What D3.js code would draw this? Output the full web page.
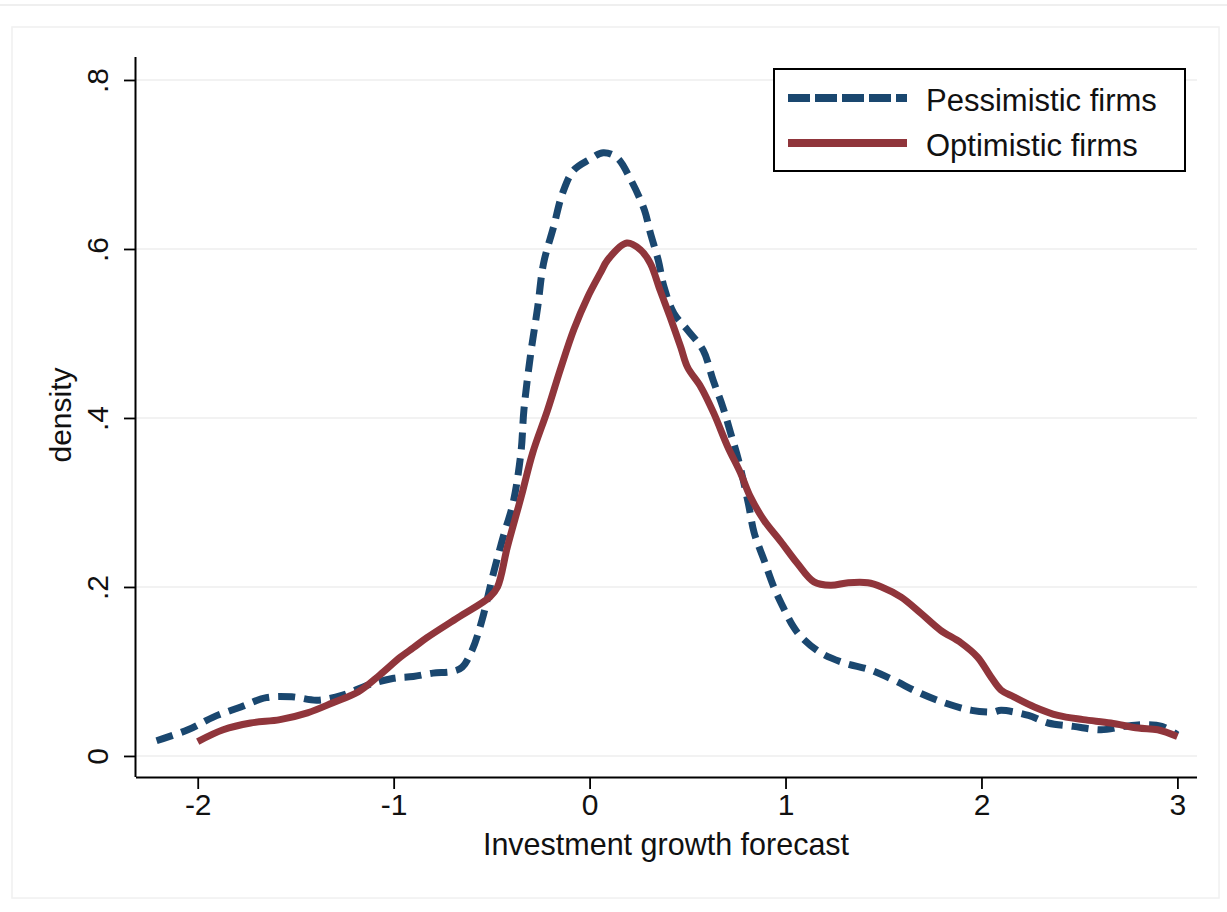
<!DOCTYPE html>
<html>
<head>
<meta charset="utf-8">
<script src="https://cdn.jsdelivr.net/npm/d3@7"></script>
<style>
  html, body { margin: 0; padding: 0; background: #ffffff; }
  svg { display: block; font-family: "Liberation Sans", Arial, sans-serif; }
</style>
</head>
<body>
<svg id="chart" width="1227" height="912"></svg>
<script>
// ---- data ----
const pessX = [-2.21, -2.05, -1.92, -1.78, -1.65, -1.52, -1.39, -1.26, -1.13, -1.00, -0.90, -0.80, -0.70, -0.65, -0.60, -0.55, -0.49, -0.44, -0.39, -0.35, -0.335, -0.30, -0.265, -0.235, -0.184, -0.138, -0.082, 0.00, 0.07, 0.14, 0.21, 0.28, 0.31, 0.35, 0.38, 0.43, 0.50, 0.58, 0.63, 0.68, 0.72, 0.76, 0.81, 0.84, 0.89, 0.94, 0.99, 1.04, 1.08, 1.18, 1.30, 1.43, 1.55, 1.68, 1.81, 1.95, 2.06, 2.10, 2.24, 2.34, 2.47, 2.61, 2.73, 2.83, 2.92, 3.00];
const pessY = [0.018, 0.031, 0.046, 0.058, 0.069, 0.070, 0.066, 0.072, 0.084, 0.092, 0.094, 0.098, 0.100, 0.105, 0.125, 0.160, 0.217, 0.260, 0.300, 0.360, 0.410, 0.477, 0.531, 0.583, 0.626, 0.666, 0.693, 0.706, 0.714, 0.708, 0.682, 0.646, 0.619, 0.587, 0.555, 0.524, 0.504, 0.480, 0.445, 0.413, 0.382, 0.350, 0.299, 0.264, 0.232, 0.200, 0.175, 0.153, 0.141, 0.122, 0.110, 0.102, 0.090, 0.075, 0.063, 0.054, 0.052, 0.054, 0.048, 0.039, 0.035, 0.031, 0.035, 0.037, 0.035, 0.025];

const optX = [-2.00, -1.87, -1.73, -1.58, -1.44, -1.31, -1.18, -1.07, -0.965, -0.90, -0.83, -0.67, -0.51, -0.47, -0.42, -0.35, -0.29, -0.215, -0.15, -0.08, -0.01, 0.056, 0.092, 0.19, 0.26, 0.31, 0.36, 0.41, 0.465, 0.50, 0.567, 0.633, 0.705, 0.77, 0.82, 0.89, 0.975, 1.06, 1.145, 1.23, 1.32, 1.42, 1.49, 1.59, 1.69, 1.79, 1.895, 1.98, 2.05, 2.10, 2.165, 2.27, 2.39, 2.52, 2.66, 2.80, 2.90, 3.00];
const optY = [0.017, 0.031, 0.039, 0.043, 0.051, 0.063, 0.076, 0.096, 0.117, 0.128, 0.140, 0.164, 0.188, 0.200, 0.247, 0.306, 0.359, 0.409, 0.457, 0.505, 0.543, 0.572, 0.587, 0.607, 0.599, 0.583, 0.551, 0.520, 0.484, 0.460, 0.437, 0.406, 0.366, 0.335, 0.307, 0.279, 0.254, 0.228, 0.206, 0.202, 0.205, 0.205, 0.200, 0.188, 0.169, 0.149, 0.134, 0.117, 0.093, 0.078, 0.070, 0.058, 0.048, 0.043, 0.039, 0.033, 0.031, 0.023];

const xTicks = [-2, -1, 0, 1, 2, 3];
const xTickLabels = ["-2", "-1", "0", "1", "2", "3"];
const yTicks = [0, 0.2, 0.4, 0.6, 0.8];
const yTickLabels = ["0", ".2", ".4", ".6", ".8"];
const seriesNames = ["Pessimistic firms", "Optimistic firms"];
const xTitle = "Investment growth forecast";
const yTitle = "density";

// ---- layout ----
const svg = d3.select("#chart");
const W = 1227, H = 912;
const plotL = 136, plotR = 1197, plotT = 57, plotB = 777;
const blue = "#1a476f", red = "#90353b";

const x = d3.scaleLinear().domain([-2.315, 3.10]).range([plotL, plotR]);
const y = d3.scaleLinear().domain([-0.0249, 0.8272]).range([plotB, plotT]);

// outer faint frames
svg.append("line").attr("x1", 0).attr("x2", W).attr("y1", 5).attr("y2", 5)
  .attr("stroke", "#efefef").attr("stroke-width", 2);
svg.append("rect").attr("x", 12).attr("y", 27).attr("width", 1207).attr("height", 871)
  .attr("fill", "none").attr("stroke", "#f0f0f0").attr("stroke-width", 1.5);

// gridlines
svg.append("g").selectAll("line").data(yTicks).join("line")
  .attr("x1", plotL).attr("x2", plotR)
  .attr("y1", d => y(d)).attr("y2", d => y(d))
  .attr("stroke", "#eeeeee").attr("stroke-width", 1.5);

// axes
const xAxis = d3.axisBottom(x).tickValues(xTicks).tickSize(12).tickPadding(5)
  .tickFormat((d, i) => xTickLabels[i]);
const gx = svg.append("g").attr("transform", `translate(0,${plotB})`).call(xAxis);
gx.select(".domain").attr("d", `M${plotL},0.5H${plotR}`).attr("stroke", "#000").attr("stroke-width", 2);
gx.selectAll(".tick line").attr("stroke", "#000").attr("stroke-width", 1.8);
gx.selectAll(".tick text").attr("font-size", 30).attr("fill", "#111")
  .attr("font-family", "Liberation Sans, Arial, sans-serif").attr("dy", "0.71em");

const yAxis = d3.axisLeft(y).tickValues(yTicks).tickSize(12).tickPadding(0)
  .tickFormat((d, i) => yTickLabels[i]);
const gy = svg.append("g").attr("transform", `translate(${plotL},0)`).call(yAxis);
gy.select(".domain").attr("d", `M-0.5,${plotT}V${plotB}`).attr("stroke", "#000").attr("stroke-width", 2);
gy.selectAll(".tick line").attr("stroke", "#000").attr("stroke-width", 1.8);
gy.selectAll(".tick text")
  .attr("font-size", 30).attr("fill", "#111")
  .attr("font-family", "Liberation Sans, Arial, sans-serif")
  .attr("text-anchor", "middle").attr("x", null).attr("dy", null)
  .attr("transform", "translate(-28,0) rotate(-90)");

// axis titles
svg.append("text").attr("x", 666).attr("y", 855).attr("text-anchor", "middle")
  .attr("font-size", 30.5).attr("fill", "#111").text(xTitle);
svg.append("text").attr("transform", "translate(71,415) rotate(-90)").attr("text-anchor", "middle")
  .attr("font-size", 30).attr("fill", "#111").text(yTitle);

// lines
const pessData = pessX.map((v, i) => [v, pessY[i]]);
const optData = optX.map((v, i) => [v, optY[i]]);
const line = d3.line().x(d => x(d[0])).y(d => y(d[1])).curve(d3.curveCatmullRom.alpha(0.5));

svg.append("path").attr("d", line(pessData)).attr("fill", "none")
  .attr("stroke", blue).attr("stroke-width", 7).attr("stroke-dasharray", "17,9");
svg.append("path").attr("d", line(optData)).attr("fill", "none")
  .attr("stroke", red).attr("stroke-width", 7).attr("stroke-linejoin", "round");

// legend
const lg = svg.append("g");
lg.append("rect").attr("x", 774).attr("y", 69).attr("width", 411).attr("height", 102)
  .attr("fill", "#fff").attr("stroke", "#000").attr("stroke-width", 2);
const legY = [98, 143];
const legColors = [blue, red];
const legDash = ["22,5", null];
seriesNames.forEach((name, i) => {
  lg.append("line").attr("x1", 788).attr("x2", 907).attr("y1", legY[i]).attr("y2", legY[i])
    .attr("stroke", legColors[i]).attr("stroke-width", 8)
    .attr("stroke-dasharray", legDash[i]);
  lg.append("text").attr("x", 926).attr("y", legY[i] + 13)
    .attr("font-size", 31).attr("fill", "#111").text(name);
});
</script>
</body>
</html>
